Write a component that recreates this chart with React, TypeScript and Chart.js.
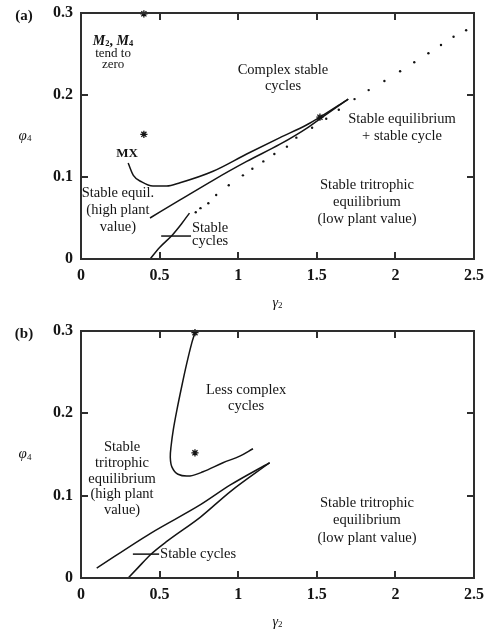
import React, { useEffect, useRef } from "react";
import { Chart, registerables } from "chart.js";

Chart.register(...registerables);

// ---------- axis ticks ----------
const xTicks = [0, 0.5, 1, 1.5, 2, 2.5];
const yTicks = [0, 0.1, 0.2, 0.3];

// ---------- panel (a) data ----------
const aMxCurve: [number, number][] = [
  [0.3, 0.117], [0.333, 0.102], [0.386, 0.094], [0.458, 0.089], [0.545, 0.089],
  [0.63, 0.093], [0.84, 0.107], [1.054, 0.128], [1.266, 0.148], [1.44, 0.164],
  [1.52, 0.173], [1.7, 0.195],
];
const aLowerCurve: [number, number][] = [
  [0.439, 0.05], [0.63, 0.072], [0.84, 0.096], [1.054, 0.119], [1.266, 0.14],
  [1.44, 0.16], [1.52, 0.171], [1.7, 0.195],
];
const aCycleCurve: [number, number][] = [
  [0.44, 0.0], [0.5, 0.014], [0.58, 0.029], [0.64, 0.043], [0.69, 0.056],
];
const aDottedCurve: [number, number][] = [
  [0.73, 0.057], [0.76, 0.062], [0.81, 0.068], [0.86, 0.078], [0.94, 0.09],
  [1.03, 0.102], [1.09, 0.11], [1.16, 0.119], [1.23, 0.128], [1.31, 0.137],
  [1.37, 0.148], [1.47, 0.16], [1.56, 0.171], [1.64, 0.182], [1.74, 0.195],
  [1.83, 0.206], [1.93, 0.217], [2.03, 0.229], [2.12, 0.24], [2.21, 0.251],
  [2.29, 0.261], [2.37, 0.271], [2.45, 0.279],
];
const aStars: [number, number][] = [[0.4, 0.299], [0.4, 0.152], [1.52, 0.173]];
const aLeader: [number, number][] = [[0.51, 0.028], [0.7, 0.028]];

// ---------- panel (b) data ----------
const bLoopCurve: [number, number][] = [
  [0.725, 0.298], [0.704, 0.285], [0.672, 0.26], [0.64, 0.232], [0.61, 0.204],
  [0.587, 0.18], [0.573, 0.16], [0.568, 0.147], [0.578, 0.135], [0.617, 0.126],
  [0.693, 0.124], [0.776, 0.129], [0.903, 0.14], [1.01, 0.148], [1.094, 0.157],
];
const bUpperLine: [number, number][] = [
  [0.1, 0.012], [0.44, 0.054], [0.76, 0.089], [0.95, 0.113], [1.2, 0.14],
];
const bLowerCurve: [number, number][] = [
  [0.3, 0.0], [0.36, 0.012], [0.44, 0.028], [0.55, 0.045], [0.76, 0.074],
  [0.95, 0.105], [1.2, 0.14],
];
const bStars: [number, number][] = [[0.725, 0.298], [0.725, 0.152]];
const bLeader: [number, number][] = [[0.33, 0.029], [0.497, 0.029]];

// ---------- annotations (text + anchor in data units) ----------
type Note = { text: string[]; at: [number, number]; kind: "body" | "small" | "bold"; align?: "center" | "left"; gap?: number };

const aNotes: Note[] = [
  { text: ["tend to", "zero"], at: [0.204, 0.2505], kind: "small", gap: 10.5 },
  { text: ["Complex stable", "cycles"], at: [1.285, 0.2305], kind: "body", gap: 16.5 },
  { text: ["MX"], at: [0.293, 0.128], kind: "bold" },
  { text: ["Stable equil.", "(high plant", "value)"], at: [0.235, 0.0805], kind: "body", gap: 17 },
  { text: ["Stable", "cycles"], at: [0.706, 0.0378], kind: "body", align: "left", gap: 13 },
  { text: ["Stable equilibrium", "+ stable cycle"], at: [2.042, 0.171], kind: "body", gap: 17.5 },
  { text: ["Stable tritrophic", "equilibrium", "(low plant value)"], at: [1.819, 0.0902], kind: "body", gap: 17 },
];
const aRichAt: [number, number] = [0.204, 0.2658];

const bNotes: Note[] = [
  { text: ["Less complex", "cycles"], at: [1.05, 0.2284], kind: "body", gap: 16 },
  { text: ["Stable", "tritrophic", "equilibrium", "(high plant", "value)"], at: [0.261, 0.1586], kind: "body", gap: 15.7 },
  { text: ["Stable cycles"], at: [0.503, 0.029], kind: "body", align: "left" },
  { text: ["Stable tritrophic", "equilibrium", "(low plant value)"], at: [1.819, 0.0911], kind: "body", gap: 17.5 },
];

// ---------- styling ----------
const SERIF = '"Liberation Serif", "Times New Roman", serif';
const INK = "#141414";
const FRAME = "#2e2e2e";
const noteFonts: Record<string, string> = {
  body: `14.5px ${SERIF}`,
  small: `13px ${SERIF}`,
  bold: `bold 13px ${SERIF}`,
};

type Seg = { t: string; font: string; dy?: number };
function drawRich(ctx: CanvasRenderingContext2D, segs: Seg[], x: number, y: number) {
  let w = 0;
  segs.forEach((s) => { ctx.font = s.font; w += ctx.measureText(s.t).width; });
  let cx = x - w / 2;
  ctx.textAlign = "left";
  ctx.textBaseline = "middle";
  segs.forEach((s) => {
    ctx.font = s.font;
    ctx.fillText(s.t, cx, y + (s.dy || 0));
    cx += ctx.measureText(s.t).width;
  });
}

type LineSpec = { pts: [number, number][]; mode: "monotone" | "smooth" | "straight" };
type PanelSpec = {
  tag: string;
  lines: LineSpec[];
  dots?: [number, number][];
  stars: [number, number][];
  notes: Note[];
  rich?: [number, number];
  topPad: number;
  plotH: number;
  canvasH: number;
};

const specA: PanelSpec = {
  tag: "(a)",
  lines: [
    { pts: aMxCurve, mode: "monotone" },
    { pts: aLowerCurve, mode: "monotone" },
    { pts: aCycleCurve, mode: "monotone" },
    { pts: aLeader, mode: "straight" },
  ],
  dots: aDottedCurve,
  stars: aStars,
  notes: aNotes,
  rich: aRichAt,
  topPad: 13,
  plotH: 246,
  canvasH: 317,
};

const specB: PanelSpec = {
  tag: "(b)",
  lines: [
    { pts: bLoopCurve, mode: "smooth" },
    { pts: bUpperLine, mode: "monotone" },
    { pts: bLowerCurve, mode: "monotone" },
    { pts: bLeader, mode: "straight" },
  ],
  stars: bStars,
  notes: bNotes,
  topPad: 14,
  plotH: 247,
  canvasH: 316,
};

const toXY = (pts: [number, number][]) => pts.map(([x, y]) => ({ x, y }));

function makeDeco(spec: PanelSpec) {
  return {
    id: "deco",
    afterDraw(chart: any) {
      const { ctx, chartArea } = chart;
      const { left, top, right, bottom } = chartArea;
      const xs = chart.scales.x;
      const ys = chart.scales.y;
      ctx.save();
      // inward tick marks on all four sides
      ctx.strokeStyle = FRAME;
      ctx.lineWidth = 2;
      ctx.beginPath();
      xTicks.forEach((v) => {
        if (v <= xs.min || v >= xs.max) return;
        const px = Math.round(xs.getPixelForValue(v));
        ctx.moveTo(px, bottom); ctx.lineTo(px, bottom - 7);
        ctx.moveTo(px, top); ctx.lineTo(px, top + 7);
      });
      yTicks.forEach((v) => {
        if (v <= ys.min || v >= ys.max) return;
        const py = Math.round(ys.getPixelForValue(v));
        ctx.moveTo(left, py); ctx.lineTo(left + 7, py);
        ctx.moveTo(right, py); ctx.lineTo(right - 7, py);
      });
      ctx.stroke();
      ctx.strokeRect(left, top, right - left, bottom - top);

      // annotations
      ctx.fillStyle = INK;
      spec.notes.forEach((n) => {
        ctx.font = noteFonts[n.kind];
        ctx.textAlign = n.align || "center";
        ctx.textBaseline = "middle";
        const x0 = xs.getPixelForValue(n.at[0]);
        const y0 = ys.getPixelForValue(n.at[1]);
        n.text.forEach((line, i) => ctx.fillText(line, x0, y0 + i * (n.gap || 16)));
      });
      if (spec.rich) {
        const mx = xs.getPixelForValue(spec.rich[0]);
        const my = ys.getPixelForValue(spec.rich[1]);
        const big = `bold italic 14px ${SERIF}`;
        const sub = `bold 8.5px ${SERIF}`;
        drawRich(ctx, [
          { t: "M", font: big }, { t: "2", font: sub, dy: 2.5 },
          { t: ", ", font: `bold 14px ${SERIF}` },
          { t: "M", font: big }, { t: "4", font: sub, dy: 2.5 },
        ], mx, my);
      }
      // panel tag
      ctx.font = `bold 15px ${SERIF}`;
      ctx.textAlign = "center";
      ctx.textBaseline = "middle";
      ctx.fillText(spec.tag, left - 57, top + 3.5);
      // axis titles
      drawRich(ctx, [
        { t: "γ", font: `italic 14px ${SERIF}` },
        { t: "2", font: `9px ${SERIF}`, dy: 3 },
      ], (left + right) / 2, bottom + 44);
      drawRich(ctx, [
        { t: "φ", font: `italic 15px ${SERIF}` },
        { t: "4", font: `9px ${SERIF}`, dy: 3 },
      ], left - 56, (top + bottom) / 2);
      ctx.restore();
    },
  };
}

function buildConfig(spec: PanelSpec): any {
  const xAxisH = spec.canvasH - spec.topPad - spec.plotH;
  const tickFont = { family: SERIF, size: 16, weight: "bold" as const };
  const datasets: any[] = spec.lines.map((l) => ({
    data: toXY(l.pts),
    showLine: true,
    borderColor: INK,
    borderWidth: 1.5,
    pointRadius: 0,
    tension: l.mode === "straight" ? 0 : 0.35,
    cubicInterpolationMode: l.mode === "monotone" ? "monotone" : "default",
    fill: false,
  }));
  if (spec.dots) {
    datasets.push({
      data: toXY(spec.dots),
      showLine: false,
      pointRadius: 1.2,
      pointBackgroundColor: INK,
      pointBorderWidth: 0,
    });
  }
  datasets.push({
    data: toXY(spec.stars),
    showLine: false,
    pointStyle: "star",
    pointRadius: 3.6,
    pointBorderColor: INK,
    pointBorderWidth: 1.3,
    clip: false,
  });
  return {
    type: "scatter",
    data: { datasets },
    options: {
      animation: false,
      responsive: false,
      maintainAspectRatio: false,
      devicePixelRatio: 1,
      events: [],
      layout: { padding: { left: 0, right: 10, top: spec.topPad, bottom: 0 } },
      plugins: { legend: { display: false }, tooltip: { enabled: false } },
      scales: {
        x: {
          type: "linear",
          min: 0,
          max: 2.5,
          grid: { display: false, drawTicks: false },
          border: { display: false },
          afterBuildTicks: (s: any) => { s.ticks = xTicks.map((v) => ({ value: v })); },
          afterFit: (s: any) => { s.height = xAxisH; s.paddingLeft = 0; s.paddingRight = 0; },
          ticks: { font: tickFont, color: INK, padding: 7, maxRotation: 0, autoSkip: false, callback: (v: number) => String(v) },
        },
        y: {
          type: "linear",
          min: 0,
          max: 0.3,
          grid: { display: false, drawTicks: false },
          border: { display: false },
          afterBuildTicks: (s: any) => { s.ticks = yTicks.map((v) => ({ value: v })); },
          afterFit: (s: any) => { s.width = 81; s.paddingTop = 0; s.paddingBottom = 0; },
          ticks: { font: tickFont, color: INK, padding: 8, autoSkip: false, callback: (v: number) => String(v) },
        },
      },
    },
    plugins: [makeDeco(spec)],
  };
}

function Panel({ spec }: { spec: PanelSpec }) {
  const ref = useRef<HTMLCanvasElement>(null);
  useEffect(() => {
    const chart = new Chart(ref.current as HTMLCanvasElement, buildConfig(spec));
    return () => chart.destroy();
  }, [spec]);
  return (
    <canvas
      ref={ref}
      width={484}
      height={spec.canvasH}
      style={{ display: "block", width: 484, height: spec.canvasH }}
    />
  );
}

export default function App() {
  return (
    <div style={{ position: "absolute", left: 0, top: 0, width: 484, height: 633, background: "#fff" }}>
      <Panel spec={specA} />
      <Panel spec={specB} />
    </div>
  );
}
